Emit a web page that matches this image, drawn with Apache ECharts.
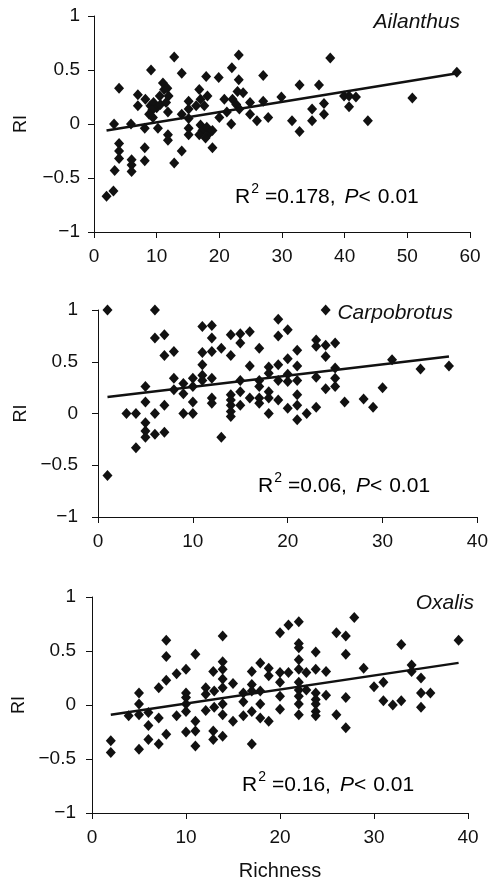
<!DOCTYPE html>
<html>
<head>
<meta charset="utf-8">
<script src="https://cdn.jsdelivr.net/npm/echarts@6/dist/echarts.min.js"></script>
<style>
html,body{margin:0;padding:0;background:#fff;}
#chart{width:491px;height:882px;}
</style>
</head>
<body>
<div id="chart"></div>
<script>
// ---- Data ----
const speciesNames = ['Ailanthus', 'Carpobrotus', 'Oxalis'];
const statLabels = ['0.178', '0.06', '0.16'];
const xMaxes = [60, 40, 40];
const yTicks = [-1, -0.5, 0, 0.5, 1];

const ailanthus = [
  [2.0,-0.67],[3.1,-0.62],[3.3,-0.43],[3.2,0.0],[4,0.33],[4,-0.18],[4,-0.25],[4,-0.32],
  [5.9,0.0],[6,-0.33],[6,-0.38],[6,-0.44],[7,0.17],[7,0.27],[8.1,-0.04],[8.1,-0.22],[8.1,-0.34],
  [9.1,0.5],[8.2,0.23],[9,0.17],[9.5,0.2],[10,0.15],[10.6,0.18],[9.3,0.13],[8.8,0.09],
  [9.4,0.06],[10.2,-0.04],[11,0.38],[11.2,0.32],[11.7,0.33],[11.9,0.26],[10.5,0.26],[11.5,0.2],
  [11.8,0.11],[11.8,-0.1],[11.8,-0.15],[12.8,0.62],[12.8,-0.36],[14,0.47],[14,0.09],[14,-0.25],
  [15.1,0.21],[15.1,0.14],[15.1,0.05],[15.1,-0.04],[15.1,-0.1],[16.3,0.17],[16.8,0.32],[17,0.23],
  [17.6,0.17],[17,-0.01],[17.3,-0.06],[16.8,-0.1],[17.9,0.44],[18.1,0.26],[18,-0.03],[18.3,-0.09],
  [17.8,-0.13],[18.9,-0.06],[18.9,-0.22],[19.9,0.43],[20,0.06],[20.8,0.23],[21.2,0.11],[22,0.52],
  [21.9,0.0],[22.1,0.23],[22.7,0.18],[23.1,0.64],[23.1,0.41],[22.9,0.3],[23.8,0.29],[23.2,0.14],
  [24.9,0.2],[24.9,0.09],[26,0.03],[27,0.45],[27,0.21],[27.8,0.06],[29.9,0.25],[31.6,0.03],
  [32.8,0.36],[32.8,-0.07],[34.8,0.14],[34.8,0.03],[35.9,0.36],[36.7,0.19],[36.7,0.09],[37.7,0.61],
  [39.9,0.26],[40.7,0.26],[40.7,0.16],[41.8,0.25],[43.7,0.03],[50.8,0.24],[57.9,0.48]
];
const carpobrotus = [
  [1,1.0],[1,-0.6],[3,0],[4,0],[4,-0.33],[5,0.26],[5,0.11],[5,-0.09],[5,-0.17],[5,-0.23],
  [6,1.0],[6,0.73],[6,0],[6,-0.2],[7,0.76],[7,0.56],[7,0.08],[7,-0.18],[8,0.6],[8,0.34],[8,0.23],
  [9,0.29],[9,0.19],[9,0],[10,0.34],[10,0.26],[10,0.11],[10,0],[11,0.84],[11,0.59],[11,0.47],
  [11,0.37],[11,0.32],[12,0.85],[12,0.73],[12,0.6],[12,0.34],[12,0.15],[12,0.1],[13,0.63],[13,-0.23],
  [14,0.76],[14,0.56],[14,0.18],[14,0.13],[14,0.08],[14,0.02],[14,-0.03],[15,0.77],[15,0.68],
  [15,0.32],[15,0.21],[15,0.08],[16,0.79],[16,0.46],[16,0.15],[17,0.63],[17,0.32],[17,0.26],
  [17,0.15],[17,0.1],[18,0.45],[18,0.39],[18,0.21],[18,0.15],[18,0],[19,0.91],[19,0.75],[19,0.47],
  [19,0.32],[19,0.13],[20,0.81],[20,0.53],[20,0.38],[20,0.31],[20,0.05],[21,0.61],[21,0.46],
  [21,0.32],[21,0.18],[21,0.08],[21,-0.06],[22,0],[23,0.71],[23,0.65],[23,0.35],[23,0.06],
  [24,0.66],[24,0.55],[24,0.24],[24,1.0],[25,0.68],[25,0.44],[25,0.34],[25,0.26],[26,0.11],
  [28,0.14],[29,0.06],[30,0.25],[31,0.52],[34,0.43],[37,0.46]
];
const oxalis = [
  [2,-0.33],[2,-0.44],[3.9,-0.1],[5,0.11],[5,0.01],[5,-0.09],[5,-0.41],[6,-0.07],[6,-0.19],[6,-0.32],
  [7.1,0.16],[7.1,-0.12],[7.1,-0.36],[7.9,0.6],[7.9,0.45],[7.9,0.23],[7.9,-0.27],[9,0.29],[9,-0.1],
  [10,0.33],[10,0.11],[10,0.07],[10,0.01],[10,-0.06],[10,-0.25],[11,0.47],[11,-0.15],[11,-0.24],
  [11,-0.38],[12.1,0.16],[12.1,0.1],[12.1,-0.05],[12.9,0.31],[13,0.13],[13,-0.02],[12.9,-0.24],
  [12.9,-0.32],[13.9,0.64],[13.9,0.4],[13.9,0.33],[13.9,0.24],[13.9,0.16],[13.9,0.01],[13.9,-0.09],
  [13.9,-0.29],[15,0.2],[15,-0.15],[16.1,0.11],[16.1,0.03],[16.1,-0.1],[17,0.31],[17,0.19],[17,0.13],
  [17,-0.06],[17,-0.36],[17.9,0.39],[17.9,0.13],[17.9,0.01],[17.9,-0.12],[18.8,0.34],[18.8,0.27],
  [18.8,-0.15],[20,0.67],[20,0.3],[20,0.21],[20,0.08],[20,-0.04],[20.9,0.74],[20.9,0.3],[22,0.77],
  [22,0.57],[22,0.53],[22,0.42],[22,0.33],[22,0.21],[22,0.14],[22,0.08],[22,0.01],[22,-0.09],
  [22.8,0.3],[22.8,0.14],[23.8,0.49],[23.8,0.33],[23.8,0.11],[23.8,0.05],[23.8,0.01],[23.8,-0.06],
  [23.8,-0.1],[24.9,0.31],[24.9,0.09],[26,0.67],[26,-0.09],[27,0.64],[27,0.47],[27,0.07],[27,-0.21],
  [27.9,0.81],[28.9,0.34],[30,0.17],[31,0.21],[31,0.04],[32,0],[32.9,0.04],[32.9,0.56],[34,0.37],
  [34,0.31],[35,0.25],[35,0.11],[35,-0.02],[36,0.11],[39,0.6]
];
const trendAilanthus = [[2,-0.06],[58,0.47]];
const trendCarpobrotus = [[1,0.16],[37,0.55]];
const trendOxalis = [[2,-0.09],[39,0.39]];

// ---- Chart ----
const FONT = '"Liberation Sans", Arial, Helvetica, sans-serif';
const INK = '#111';
const grids = [
  {left: 94, top: 16, width: 376, height: 216},
  {left: 98, top: 310, width: 383, height: 207},
  {left: 92, top: 597, width: 376, height: 217}
];
const scatters = [ailanthus, carpobrotus, oxalis];
const trends = [trendAilanthus, trendCarpobrotus, trendOxalis];
const yNameGaps = [64, 68, 62];
const yLabelMargins = [14, 20, 16];

const xAxes = grids.map((g, i) => ({
  gridIndex: i, type: 'value', min: 0, max: xMaxes[i], interval: 10,
  axisLine: {onZero: false, lineStyle: {color: INK, width: 1}},
  axisTick: {show: true, length: 6, lineStyle: {color: INK}},
  splitLine: {show: false},
  axisLabel: {color: INK, fontSize: 19, fontFamily: FONT, margin: 15},
  name: i === 2 ? 'Richness' : '', nameLocation: 'middle', nameGap: 48,
  nameTextStyle: {color: INK, fontSize: 20, fontFamily: FONT}
}));
const yAxes = grids.map((g, i) => ({
  gridIndex: i, type: 'value', min: yTicks[0], max: yTicks[yTicks.length-1], interval: 0.5,
  axisLine: {onZero: false, lineStyle: {color: INK, width: 1}},
  axisTick: {show: true, length: 6, lineStyle: {color: INK}},
  splitLine: {show: false},
  axisLabel: {color: INK, fontSize: 19, fontFamily: FONT, margin: yLabelMargins[i],
    formatter: v => String(v).replace('-', '\u2212')},
  name: 'RI', nameLocation: 'middle', nameGap: yNameGaps[i], nameRotate: 90,
  nameTextStyle: {color: INK, fontSize: 18, fontFamily: FONT}
}));

const series = [];
scatters.forEach((d, i) => {
  series.push({type: 'scatter', xAxisIndex: i, yAxisIndex: i, data: d, symbol: 'diamond',
    symbolSize: [10, 11], itemStyle: {color: INK, opacity: 1}, silent: true, z: 3});
  series.push({type: 'line', xAxisIndex: i, yAxisIndex: i, data: trends[i], symbol: 'none',
    lineStyle: {color: INK, width: 2.5}, silent: true, z: 4});
});

const rich = {
  r: {fontSize: 21, fontFamily: FONT, color: INK},
  s: {fontSize: 14, fontFamily: FONT, color: INK, padding: [0, 6, 16, 1]},
  i: {fontSize: 21, fontFamily: FONT, color: INK, fontStyle: 'italic', padding: [0, 0, 0, 9]},
  t: {fontSize: 21, fontFamily: FONT, color: INK, padding: [0, 0, 0, 7]}
};
function statText(i) {
  return '{r|R}{s|2}{r|=' + statLabels[i] + ',}{i|P}{r|<}{t|0.01}';
}
const statPos = [[235, 197], [258, 486], [242, 785]];
const namePos = [[460, 22], [453, 313], [474, 603]];
const graphic = [];
for (let i = 0; i < 3; i++) {
  graphic.push({type: 'text', x: statPos[i][0], y: statPos[i][1], z: 10,
    style: {text: statText(i), rich: rich, verticalAlign: 'middle', align: 'left'}});
  graphic.push({type: 'text', x: namePos[i][0], y: namePos[i][1], z: 10,
    style: {text: speciesNames[i], fontSize: 21, fontStyle: 'italic', fontFamily: FONT,
      fill: INK, align: 'right', verticalAlign: 'middle'}});
}

const chart = echarts.init(document.getElementById('chart'), null, {renderer: 'canvas'});
chart.setOption({
  animation: false,
  backgroundColor: '#fff',
  grid: grids,
  xAxis: xAxes,
  yAxis: yAxes,
  series: series,
  graphic: graphic
});
</script>
</body>
</html>
